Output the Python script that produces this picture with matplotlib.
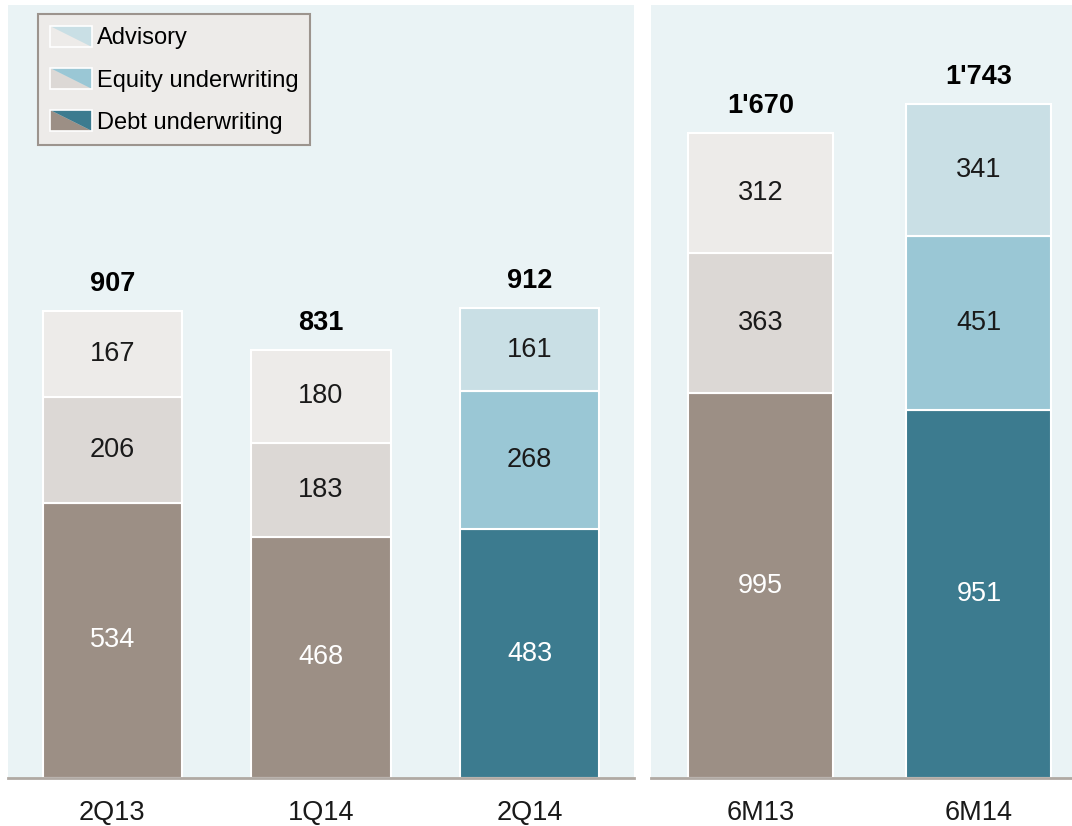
import numpy as np
import matplotlib
matplotlib.use('Agg')
import matplotlib.pyplot as plt
from matplotlib.patches import Polygon
from matplotlib.legend_handler import HandlerBase

plt.rcParams['font.family'] = ['Liberation Sans', 'DejaVu Sans']

# quarterly panel
q_labels = ['2Q13', '1Q14', '2Q14']
q_debt = [534, 468, 483]
q_equity = [206, 183, 268]
q_advisory = [167, 180, 161]
q_totals = ['907', '831', '912']
q_highlight = [False, False, True]

# half-year panel
h_labels = ['6M13', '6M14']
h_debt = [995, 951]
h_equity = [363, 451]
h_advisory = [312, 341]
h_totals = ["1'670", "1'743"]
h_highlight = [False, True]

series_names = ['Advisory', 'Equity underwriting', 'Debt underwriting']
grey = {'debt': '#9c8f85', 'equity': '#dcd8d5', 'advisory': '#edebe9'}
blue = {'debt': '#3c7b8f', 'equity': '#9ac7d5', 'advisory': '#c9dfe5'}
bg = '#eaf3f5'
txt = '#1a1a1a'
fs = 19.5


class SplitHandler(HandlerBase):
    def __init__(self, c_low, c_up):
        super().__init__()
        self.c_low = c_low
        self.c_up = c_up

    def create_artists(self, legend, orig_handle, xdescent, ydescent,
                       width, height, fontsize, trans):
        x0, y0 = -xdescent, -ydescent
        lo = Polygon([[x0, y0 + height], [x0, y0], [x0 + width, y0]],
                     closed=True, facecolor=self.c_low, edgecolor='none', transform=trans)
        up = Polygon([[x0, y0 + height], [x0 + width, y0 + height], [x0 + width, y0]],
                     closed=True, facecolor=self.c_up, edgecolor='none', transform=trans)
        box = Polygon([[x0, y0], [x0 + width, y0], [x0 + width, y0 + height], [x0, y0 + height]],
                      closed=True, facecolor='none', edgecolor='white', lw=1.2, transform=trans)
        return [lo, up, box]


def draw_panel(ax, labels, debt, equity, advisory, totals, highlight, width):
    x = np.arange(len(labels))
    debt = np.array(debt)
    equity = np.array(equity)
    advisory = np.array(advisory)
    for i in range(len(labels)):
        pal = blue if highlight[i] else grey
        ax.bar(x[i], debt[i], width, color=pal['debt'], edgecolor='white', lw=1.5, zorder=2)
        ax.bar(x[i], equity[i], width, bottom=debt[i], color=pal['equity'],
               edgecolor='white', lw=1.5, zorder=2)
        ax.bar(x[i], advisory[i], width, bottom=debt[i] + equity[i], color=pal['advisory'],
               edgecolor='white', lw=1.5, zorder=2)
        ax.text(x[i], debt[i] / 2, str(debt[i]), ha='center', va='center',
                fontsize=fs, color='white')
        ax.text(x[i], debt[i] + equity[i] / 2, str(equity[i]), ha='center', va='center',
                fontsize=fs, color=txt)
        ax.text(x[i], debt[i] + equity[i] + advisory[i] / 2, str(advisory[i]),
                ha='center', va='center', fontsize=fs, color=txt)
        top = debt[i] + equity[i] + advisory[i]
        ax.annotate(totals[i], (x[i], top), xytext=(0, 10), textcoords='offset points',
                    ha='center', va='bottom', fontsize=fs, fontweight='bold', color='black')
    ax.set_facecolor(bg)
    ax.set_xticks(x)
    ax.set_xticklabels(labels, fontsize=fs, color=txt)
    ax.tick_params(axis='x', length=0, pad=16)
    ax.set_yticks([])
    for s in ['top', 'left', 'right']:
        ax.spines[s].set_visible(False)
    ax.spines['bottom'].set_color('#b0a9a3')
    ax.spines['bottom'].set_linewidth(2)


fig = plt.figure(figsize=(10.72, 8.26), dpi=100)
W, H = 1072, 826
ax1 = fig.add_axes([8 / W, 48 / H, 626 / W, 773 / H])
ax2 = fig.add_axes([651 / W, 48 / H, 421 / W, 773 / H])

draw_panel(ax1, q_labels, q_debt, q_equity, q_advisory, q_totals, q_highlight, 0.667)
ax1.set_xlim(-0.5, 2.5)
ax1.set_ylim(0, 1500)

draw_panel(ax2, h_labels, h_debt, h_equity, h_advisory, h_totals, h_highlight, 0.664)
ax2.set_xlim(-0.5, 1.426)
ax2.set_ylim(0, 2000)

handles = [object(), object(), object()]
hmap = {
    handles[0]: SplitHandler(grey['advisory'], blue['advisory']),
    handles[1]: SplitHandler(grey['equity'], blue['equity']),
    handles[2]: SplitHandler(grey['debt'], blue['debt']),
}
leg = ax1.legend(handles, series_names, handler_map=hmap, loc='upper left',
                 bbox_to_anchor=(30 / 626, 1 - 9 / 773), fontsize=17,
                 frameon=True, fancybox=False, handlelength=1.8, handleheight=1.0,
                 handletextpad=0.2, borderpad=0.5, labelspacing=0.78, borderaxespad=0)
leg.get_frame().set_facecolor('#edebe9')
leg.get_frame().set_edgecolor('#9c948e')
leg.get_frame().set_linewidth(1.5)
leg.get_frame().set_alpha(1)

fig.savefig('out.png', dpi=100, facecolor='white')
